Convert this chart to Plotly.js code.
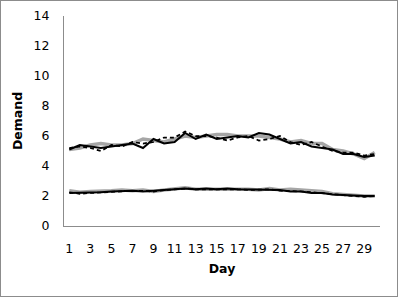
<!DOCTYPE html>
<html>
<head>
<meta charset="utf-8">
<script src="https://cdn.plot.ly/plotly-3.0.1.min.js"></script>
<style>
html,body{margin:0;padding:0;background:#fff;}
#wrap{width:396px;height:295px;border:1px solid #8c8c8c;}
#chart{width:396px;height:295px;}
</style>
</head>
<body>
<div id="wrap"><div id="chart"></div></div>
<script>
const days = Array.from({length:30},(_,i)=>i+1);
const tickDays = [1,3,5,7,9,11,13,15,17,19,21,23,25,27,29];
const yTicks = [0,2,4,6,8,10,12,14];

const upperGray  = [5.1,5.2,5.4,5.5,5.4,5.4,5.5,5.8,5.7,5.6,5.8,6.0,5.9,6.0,6.1,6.1,6.0,6.0,6.0,5.9,5.8,5.6,5.7,5.5,5.5,5.1,5.0,4.8,4.5,4.9];
const upperSolid = [5.1,5.4,5.3,5.2,5.3,5.4,5.5,5.2,5.8,5.5,5.6,6.2,5.8,6.1,5.8,5.9,6.0,5.9,6.2,6.1,5.8,5.5,5.6,5.3,5.2,5.1,4.8,4.8,4.6,4.7];
const upperDash  = [5.2,5.3,5.2,5.0,5.4,5.3,5.6,5.5,5.6,5.9,5.9,6.3,6.0,6.0,5.9,5.7,5.9,6.0,5.7,5.8,6.0,5.6,5.4,5.6,5.3,5.0,4.9,4.9,4.7,4.8];

const lowerGray  = [2.35,2.25,2.3,2.3,2.35,2.4,2.35,2.4,2.3,2.4,2.5,2.55,2.45,2.45,2.5,2.45,2.5,2.45,2.4,2.5,2.4,2.45,2.4,2.35,2.3,2.15,2.1,2.0,2.0,2.0];
const lowerSolid = [2.2,2.2,2.2,2.25,2.3,2.35,2.35,2.3,2.35,2.4,2.45,2.5,2.45,2.5,2.45,2.5,2.45,2.45,2.45,2.4,2.4,2.3,2.3,2.2,2.2,2.1,2.05,2.0,2.0,2.0];
const lowerDash  = [2.25,2.15,2.2,2.25,2.3,2.3,2.35,2.35,2.3,2.4,2.45,2.5,2.45,2.45,2.45,2.5,2.45,2.4,2.45,2.45,2.35,2.35,2.3,2.25,2.2,2.1,2.05,2.0,1.95,2.0];

const gray = {color:'#a6a6a6', width:3.5};
const solid = {color:'#000000', width:2};
const dash = {color:'#000000', width:1.75, dash:'4px,3px'};

const traces = [
  {x:days, y:upperGray, mode:'lines', line:gray},
  {x:days, y:lowerGray, mode:'lines', line:gray},
  {x:days, y:upperDash, mode:'lines', line:dash},
  {x:days, y:lowerDash, mode:'lines', line:dash},
  {x:days, y:upperSolid, mode:'lines', line:solid},
  {x:days, y:lowerSolid, mode:'lines', line:solid}
];

const font = {family:'DejaVu Sans, sans-serif', size:12.5, color:'#000'};
const titleFont = {family:'DejaVu Sans, sans-serif', size:12.5, color:'#000'};
const layout = {
  width:396, height:295,
  margin:{l:63, r:17, t:15, b:70},
  paper_bgcolor:'#fff', plot_bgcolor:'#fff',
  showlegend:false,
  font:font,
  xaxis:{
    range:[0.5,30.5], tickvals:tickDays, ticktext:tickDays.map(String),
    showgrid:false, zeroline:false, showline:true, linecolor:'#8c8c8c', linewidth:1,
    ticks:'', ticklabelstandoff:11,
    title:{text:'<b>Day</b>', font:titleFont, standoff:9}
  },
  yaxis:{
    range:[0,14], tickvals:yTicks, ticktext:yTicks.map(String),
    showgrid:false, zeroline:false, showline:true, linecolor:'#8c8c8c', linewidth:1,
    ticks:'', ticklabelstandoff:11,
    title:{text:'<b>Demand</b>', font:titleFont, standoff:8}
  }
};
Plotly.newPlot('chart', traces, layout, {staticPlot:true, displayModeBar:false});
</script>
</body>
</html>
